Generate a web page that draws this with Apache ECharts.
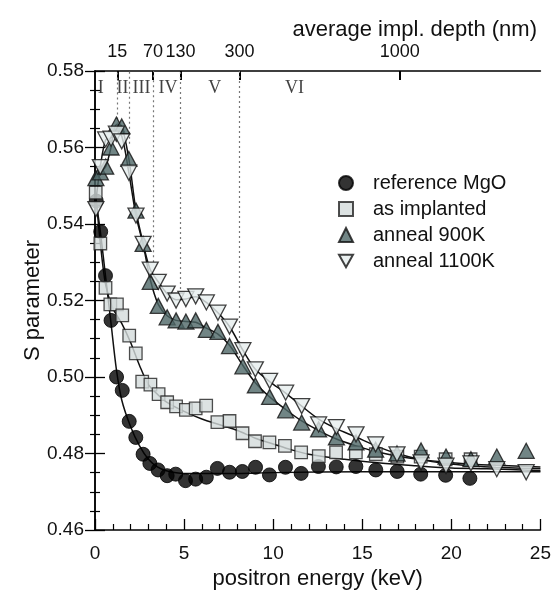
<!DOCTYPE html>
<html><head><meta charset="utf-8">
<script src="https://cdn.jsdelivr.net/npm/echarts@6/dist/echarts.min.js"></script>
<style>html,body{margin:0;padding:0;background:#fff}#c{width:554px;height:595px}</style>
</head><body><div id="c"></div>
<script>
// ---- data ----
const refE  = [0.07,0.32,0.59,0.90,1.21,1.53,1.92,2.29,2.70,3.08,3.54,4.05,4.53,5.08,5.65,6.25,6.87,7.55,8.27,9.01,9.79,10.69,11.57,12.54,13.54,14.64,15.76,16.96,18.28,19.68,21.04];
const refS  = [0.546,0.538,0.5265,0.5148,0.500,0.4965,0.4884,0.4842,0.4798,0.4774,0.4757,0.4742,0.4746,0.4729,0.4733,0.4738,0.4761,0.4751,0.4753,0.4764,0.4744,0.4764,0.4748,0.4766,0.4765,0.4766,0.4757,0.4753,0.4746,0.4743,0.4735];
const implE = [0.04,0.30,0.59,0.86,1.23,1.53,1.92,2.29,2.65,3.11,3.57,4.05,4.55,5.10,5.65,6.24,6.87,7.55,8.28,8.98,9.79,10.66,11.57,12.56,13.53,14.64,15.76,16.97,18.28,19.68,21.08];
const implS = [0.5482,0.5349,0.5233,0.5190,0.5190,0.5161,0.5108,0.5062,0.4988,0.4980,0.4955,0.4934,0.4923,0.4914,0.4918,0.4925,0.4882,0.4885,0.4853,0.4832,0.4829,0.4820,0.4803,0.4793,0.4803,0.4803,0.4798,0.4792,0.4792,0.4785,0.4785];
const a900E = [0.05,0.30,0.60,0.90,1.20,1.50,1.90,2.30,2.70,3.10,3.55,4.05,4.55,5.10,5.65,6.25,6.90,7.55,8.30,9.00,9.80,10.70,11.60,12.55,13.55,14.65,15.75,16.95,18.30,19.70,21.10,22.55,24.20];
const a900S = [0.552,0.5535,0.555,0.560,0.566,0.5655,0.557,0.5435,0.5348,0.5249,0.5186,0.5156,0.5148,0.5145,0.5148,0.5123,0.5118,0.5081,0.5028,0.4978,0.4948,0.4913,0.4881,0.4863,0.4842,0.4829,0.4810,0.4800,0.4808,0.4792,0.4785,0.4792,0.4807];
const a1100E = [0.05,0.30,0.60,0.90,1.20,1.50,1.90,2.30,2.70,3.10,3.55,4.05,4.55,5.10,5.65,6.25,6.90,7.55,8.30,9.00,9.80,10.70,11.60,12.55,13.55,14.65,15.75,16.95,18.30,19.70,21.10,22.55,24.20];
const a1100S = [0.5439,0.5549,0.5621,0.5623,0.5636,0.5616,0.5534,0.5422,0.5348,0.5281,0.5249,0.5218,0.5200,0.5204,0.5211,0.5195,0.5168,0.5132,0.5070,0.5020,0.4990,0.4959,0.4924,0.4876,0.4869,0.4850,0.4824,0.4798,0.4777,0.4768,0.4774,0.4759,0.4751];

// fitted curves
const refFitE = [0,0.3,0.6,0.9,1.2,1.5,2,2.5,3,3.5,4,5,6,8,10,15,20,25];
const refFitS = [0.548,0.538,0.526,0.514,0.502,0.494,0.487,0.482,0.4785,0.4765,0.4755,0.4748,0.4748,0.4748,0.475,0.4752,0.4752,0.4752];
const implFitE = [0,0.3,0.6,1,1.5,2,2.5,3,3.5,4,5,6,7,8,9,10,11,12,14,16,18,20,22,25];
const implFitS = [0.550,0.535,0.524,0.518,0.514,0.509,0.503,0.498,0.4955,0.4935,0.491,0.489,0.4875,0.486,0.484,0.4825,0.481,0.4798,0.4785,0.4775,0.4768,0.4762,0.476,0.4755];
const a900FitE = [0,0.3,0.6,0.9,1.2,1.5,1.9,2.3,2.7,3.1,3.55,4.05,4.55,5.1,5.65,6.25,6.9,7.55,8.3,9,9.8,10.7,11.6,12.55,13.55,14.65,15.75,17,18.3,19.7,21.1,22.5,25];
const a900FitS = [0.552,0.5535,0.555,0.560,0.566,0.5655,0.557,0.5435,0.5348,0.5255,0.519,0.516,0.5148,0.5145,0.5143,0.5128,0.5112,0.5083,0.503,0.4985,0.4948,0.4915,0.4885,0.486,0.4838,0.482,0.4805,0.4793,0.4784,0.4777,0.4772,0.4769,0.4765];
const a1100FitE = [0,0.3,0.6,0.9,1.2,1.5,1.9,2.3,2.7,3.1,3.55,4.05,4.55,5.1,5.65,6.25,6.9,7.55,8.3,9,9.8,10.7,11.6,12.55,13.55,14.65,15.75,16.95,18.3,19.7,21.1,22.5,25];
const a1100FitS = [0.544,0.555,0.562,0.5625,0.5635,0.563,0.5534,0.5422,0.5348,0.5281,0.5249,0.5218,0.5202,0.5204,0.521,0.5195,0.5168,0.5132,0.507,0.502,0.4988,0.4958,0.4924,0.489,0.4865,0.4843,0.482,0.480,0.4784,0.4774,0.4768,0.4764,0.476];

// top axis: average implantation depth
const depthLabels = ['15','70','130','300','1000'];
const depthEnergy = [1.25,3.26,4.8,8.11,17.1];
// depth regions
const regionNames = ['I','II','III','IV','V','VI'];
const regionLabelE = [0.32,1.55,2.61,4.1,6.72,11.2];
const regionLabelS = [0.5756,0.5756,0.5756,0.5756,0.5756,0.5756];
const regionBoundE = [1.25,1.94,3.26,4.8,8.11];
const regionBoundLowS = [0.566,0.561,0.530,0.523,0.505];

const seriesNames = ['reference MgO','as implanted','anneal 900K','anneal 1100K'];
const xTicks = [0,5,10,15,20,25];
const yTicks = [0.46,0.48,0.50,0.52,0.54,0.56,0.58];

// ---- chart ----
const zip = (a,b)=>a.map((v,i)=>[v,b[i]]);
const FONT = 'Liberation Sans, Arial, sans-serif';
const downTri = 'path://M0,0L10,0L5,9Z';
const chart = echarts.init(document.getElementById('c'), null, {renderer:'canvas'});
const axisLineStyle = {color:'#000', width:1.5};
const fitLine = (name,data)=>({name:name+' fit', type:'line', data, symbol:'none', smooth:0.3,
  lineStyle:{color:'#111', width:1.5}, z:2, silent:true});

chart.setOption({
  animation:false,
  backgroundColor:'#fff',
  textStyle:{fontFamily:FONT},
  title:{text:'average impl. depth (nm)', right:12, top:14,
    textStyle:{fontSize:22, fontWeight:'normal', color:'#111', fontFamily:FONT}},
  grid:{left:95, right:12, top:71, bottom:62},
  legend:{
    orient:'vertical', left:333, top:168, itemWidth:14, itemHeight:14, itemGap:6,
    selectedMode:false,
    textStyle:{fontSize:20, color:'#111', fontFamily:FONT, padding:[0,0,0,15]},
    data:[
      {name:seriesNames[0], icon:'circle'},
      {name:seriesNames[1], icon:'rect'},
      {name:seriesNames[2], icon:'triangle'},
      {name:seriesNames[3], icon:downTri}
    ]
  },
  xAxis:[
    {type:'value', min:xTicks[0], max:xTicks[xTicks.length-1], interval:5, position:'bottom',
     axisLine:{lineStyle:axisLineStyle}, axisTick:{inside:false, length:-11, lineStyle:{color:'#000',width:1.3}},
     minorTick:{show:true, splitNumber:5, length:-6, lineStyle:{color:'#000',width:1.2}},
     axisLabel:{fontSize:19, color:'#111', margin:14, fontFamily:FONT},
     splitLine:{show:false},
     name:'positron energy (keV)', nameLocation:'middle', nameGap:38, nameMoveOverlap:false,
     nameTextStyle:{fontSize:22, color:'#111', fontFamily:FONT}},
    {type:'value', min:0, max:25, position:'top',
     axisLine:{lineStyle:axisLineStyle},
     axisTick:{inside:false, length:-9, customValues:depthEnergy, lineStyle:{color:'#000',width:2}},
     axisLabel:{customValues:depthEnergy, fontSize:18, color:'#111', margin:10, fontFamily:FONT,
       formatter:(v)=>{const i=depthEnergy.findIndex(e=>Math.abs(e-v)<1e-6);return i>=0?depthLabels[i]:'';}},
     splitLine:{show:false}}
  ],
  yAxis:[
    {type:'value', min:yTicks[0], max:yTicks[yTicks.length-1], interval:0.02, position:'left',
     axisLine:{lineStyle:axisLineStyle}, axisTick:{inside:false, length:-10, lineStyle:{color:'#000',width:1.3}},
     minorTick:{show:true, splitNumber:4, length:-5, lineStyle:{color:'#000',width:1.2}},
     axisLabel:{fontSize:19, color:'#111', margin:11, fontFamily:FONT, formatter:(v)=>v.toFixed(2)},
     splitLine:{show:false},
     name:'S parameter', nameLocation:'middle', nameGap:51, nameRotate:90, nameMoveOverlap:false,
     nameTextStyle:{fontSize:22, color:'#111', fontFamily:FONT}},
    {type:'value', min:0.46, max:0.58, interval:0.02, position:'right',
     axisLine:{lineStyle:axisLineStyle}, axisTick:{inside:false, length:-10, lineStyle:{color:'#000',width:1.3}},
     minorTick:{show:true, splitNumber:4, length:-5, lineStyle:{color:'#000',width:1.2}},
     axisLabel:{show:false}, splitLine:{show:false}}
  ],
  series:[
    fitLine(seriesNames[0], zip(refFitE, refFitS)),
    fitLine(seriesNames[1], zip(implFitE, implFitS)),
    fitLine(seriesNames[2], zip(a900FitE, a900FitS)),
    fitLine(seriesNames[3], zip(a1100FitE, a1100FitS)),
    {name:'regions', type:'scatter', symbolSize:0, silent:true, z:1,
     data: regionNames.map((n,i)=>({name:n, value:[regionLabelE[i], regionLabelS[i]]})),
     label:{show:true, position:'inside', formatter:(p)=>p.name, fontFamily:'Liberation Serif, Times New Roman, serif', fontSize:18, color:'#111'},
     markLine:{silent:true, symbol:['none','none'], label:{show:false},
       lineStyle:{type:[2,3], color:'#777', width:1.2},
       data: regionBoundE.map((e,i)=>[{coord:[e, regionBoundLowS[i]]},{coord:[e, 0.58]}])}},
    {name:seriesNames[0], type:'scatter', data:zip(refE,refS), symbol:'circle', symbolSize:14, z:3,
     itemStyle:{color:'#000', borderColor:'#000', borderWidth:1}},
    {name:seriesNames[1], type:'scatter', data:zip(implE,implS), symbol:'rect', symbolSize:12.5, z:4,
     itemStyle:{color:'#d3dbdb', borderColor:'#222', borderWidth:1.3}},
    {name:seriesNames[2], type:'scatter', data:zip(a900E,a900S), symbol:'triangle', symbolSize:[16,15], z:5,
     itemStyle:{color:'#4d6666', borderColor:'#111', borderWidth:1.3}},
    {name:seriesNames[3], type:'scatter', data:zip(a1100E,a1100S), symbol:downTri, symbolSize:[16,15], z:6,
     itemStyle:{color:'#e6eded', borderColor:'#111', borderWidth:1.3}}
  ]
});
</script></body></html>
